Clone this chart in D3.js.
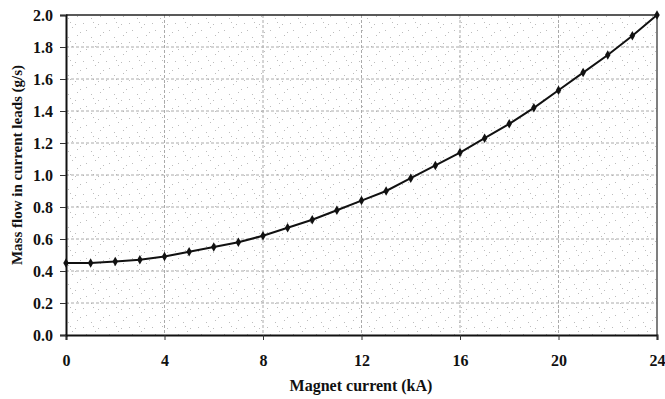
<!DOCTYPE html>
<html>
<head>
<meta charset="utf-8">
<script src="https://cdn.jsdelivr.net/npm/d3@7"></script>
<style>
  body { margin: 0; background: #fff; }
  text { font-family: "Liberation Serif", "Times New Roman", Times, "DejaVu Serif", serif; font-weight: bold; fill: #111; }
</style>
</head>
<body>
<div id="chart"></div>
<script>
// magnet current (kA) and mass flow in current leads (g/s)
const current = [0, 1, 2, 3, 4, 5, 6, 7, 8, 9, 10, 11, 12, 13, 14, 15, 16, 17, 18, 19, 20, 21, 22, 23, 24];
const massFlow = [0.45, 0.45, 0.46, 0.47, 0.49, 0.52, 0.55, 0.58, 0.62, 0.67, 0.72, 0.78, 0.84, 0.90, 0.98,
	1.06, 1.14, 1.23, 1.32, 1.42, 1.53, 1.64, 1.75, 1.87, 2.00];
const xTicks = [0, 4, 8, 12, 16, 20, 24];
const yTicks = [0, 0.2, 0.4, 0.6, 0.8, 1.0, 1.2, 1.4, 1.6, 1.8, 2.0];

const margin = { top: 15, right: 8, bottom: 64, left: 66 },
	width = 665 - margin.left - margin.right,
	height = 399 - margin.top - margin.bottom;

const serif = '"Liberation Serif", "Times New Roman", Times, "DejaVu Serif", serif';

const root = d3.select('#chart')
	.append('svg')
	.attr('width', 665)
	.attr('height', 399);

// speckled scan texture
const defs = root.append('defs');
const pat = defs.append('pattern')
	.attr('id', 'speckle')
	.attr('patternUnits', 'userSpaceOnUse')
	.attr('width', 23).attr('height', 19);
[[2, 3], [11, 1], [17, 8], [6, 12], [20, 15], [14, 17], [4, 7], [9, 9]].forEach(p => {
	pat.append('rect').attr('x', p[0]).attr('y', p[1]).attr('width', 1).attr('height', 1).attr('fill', '#bdbdbd');
});

const svg = root.append('g')
	.attr('transform', 'translate(' + margin.left + ',' + margin.top + ')');

const x = d3.scaleLinear().domain([0, 24]).range([0, width]);
const y = d3.scaleLinear().domain([0, 2]).range([height, 0]);

svg.append('rect')
	.attr('width', width).attr('height', height)
	.attr('fill', 'url(#speckle)');

// gridlines
svg.append('g')
	.selectAll('line')
	.data(yTicks.slice(1, -1))
	.join('line')
	.attr('x1', 0).attr('x2', width)
	.attr('y1', d => y(d)).attr('y2', d => y(d))
	.attr('stroke', '#aaa').attr('stroke-width', 1)
	.attr('stroke-dasharray', '3,2');

svg.append('g')
	.selectAll('line')
	.data(xTicks.slice(1, -1))
	.join('line')
	.attr('x1', d => x(d)).attr('x2', d => x(d))
	.attr('y1', 0).attr('y2', height)
	.attr('stroke', '#aaa').attr('stroke-width', 1)
	.attr('stroke-dasharray', '3,2');

// frame
svg.append('line').attr('x1', 0).attr('x2', width).attr('y1', 0).attr('y2', 0)
	.attr('stroke', '#222').attr('stroke-width', 1.5);
svg.append('line').attr('x1', width).attr('x2', width).attr('y1', 0).attr('y2', height)
	.attr('stroke', '#555').attr('stroke-width', 1.5);

// axes
const xAxis = svg.append('g')
	.attr('transform', 'translate(0,' + height + ')')
	.call(d3.axisBottom(x).tickValues(xTicks).tickSize(5).tickPadding(15).tickFormat(d3.format('d')));
const yAxis = svg.append('g')
	.call(d3.axisLeft(y).tickValues(yTicks).tickSize(6).tickPadding(7).tickFormat(d3.format('.1f')));

[xAxis, yAxis].forEach(a => {
	a.attr('font-family', serif);
	a.select('.domain').attr('stroke', '#111').attr('stroke-width', 2);
	a.selectAll('.tick line').attr('stroke', '#333');
	a.selectAll('.tick text')
		.style('font-family', serif)
		.style('font-weight', 'bold')
		.style('font-size', '16px')
		.attr('fill', '#111');
});

// curve and markers
const pts = current.map((c, i) => ({ c: c, m: massFlow[i] }));
svg.append('path')
	.datum(pts)
	.attr('fill', 'none')
	.attr('stroke', '#111')
	.attr('stroke-width', 2)
	.attr('d', d3.line().x(d => x(d.c)).y(d => y(d.m)));

svg.append('g')
	.selectAll('path')
	.data(pts)
	.join('path')
	.attr('transform', d => 'translate(' + x(d.c) + ',' + y(d.m) + ')')
	.attr('d', d3.symbol().type(d3.symbolDiamond).size(26))
	.attr('fill', '#111');

// axis titles
root.append('text')
	.attr('x', 361)
	.attr('y', 391)
	.attr('text-anchor', 'middle')
	.style('font-size', '16px')
	.text('Magnet current (kA)');

root.append('text')
	.attr('transform', 'translate(22,165) rotate(-90)')
	.attr('text-anchor', 'middle')
	.style('font-size', '15px')
	.text('Mass flow in current leads (g/s)');
</script>
</body>
</html>
